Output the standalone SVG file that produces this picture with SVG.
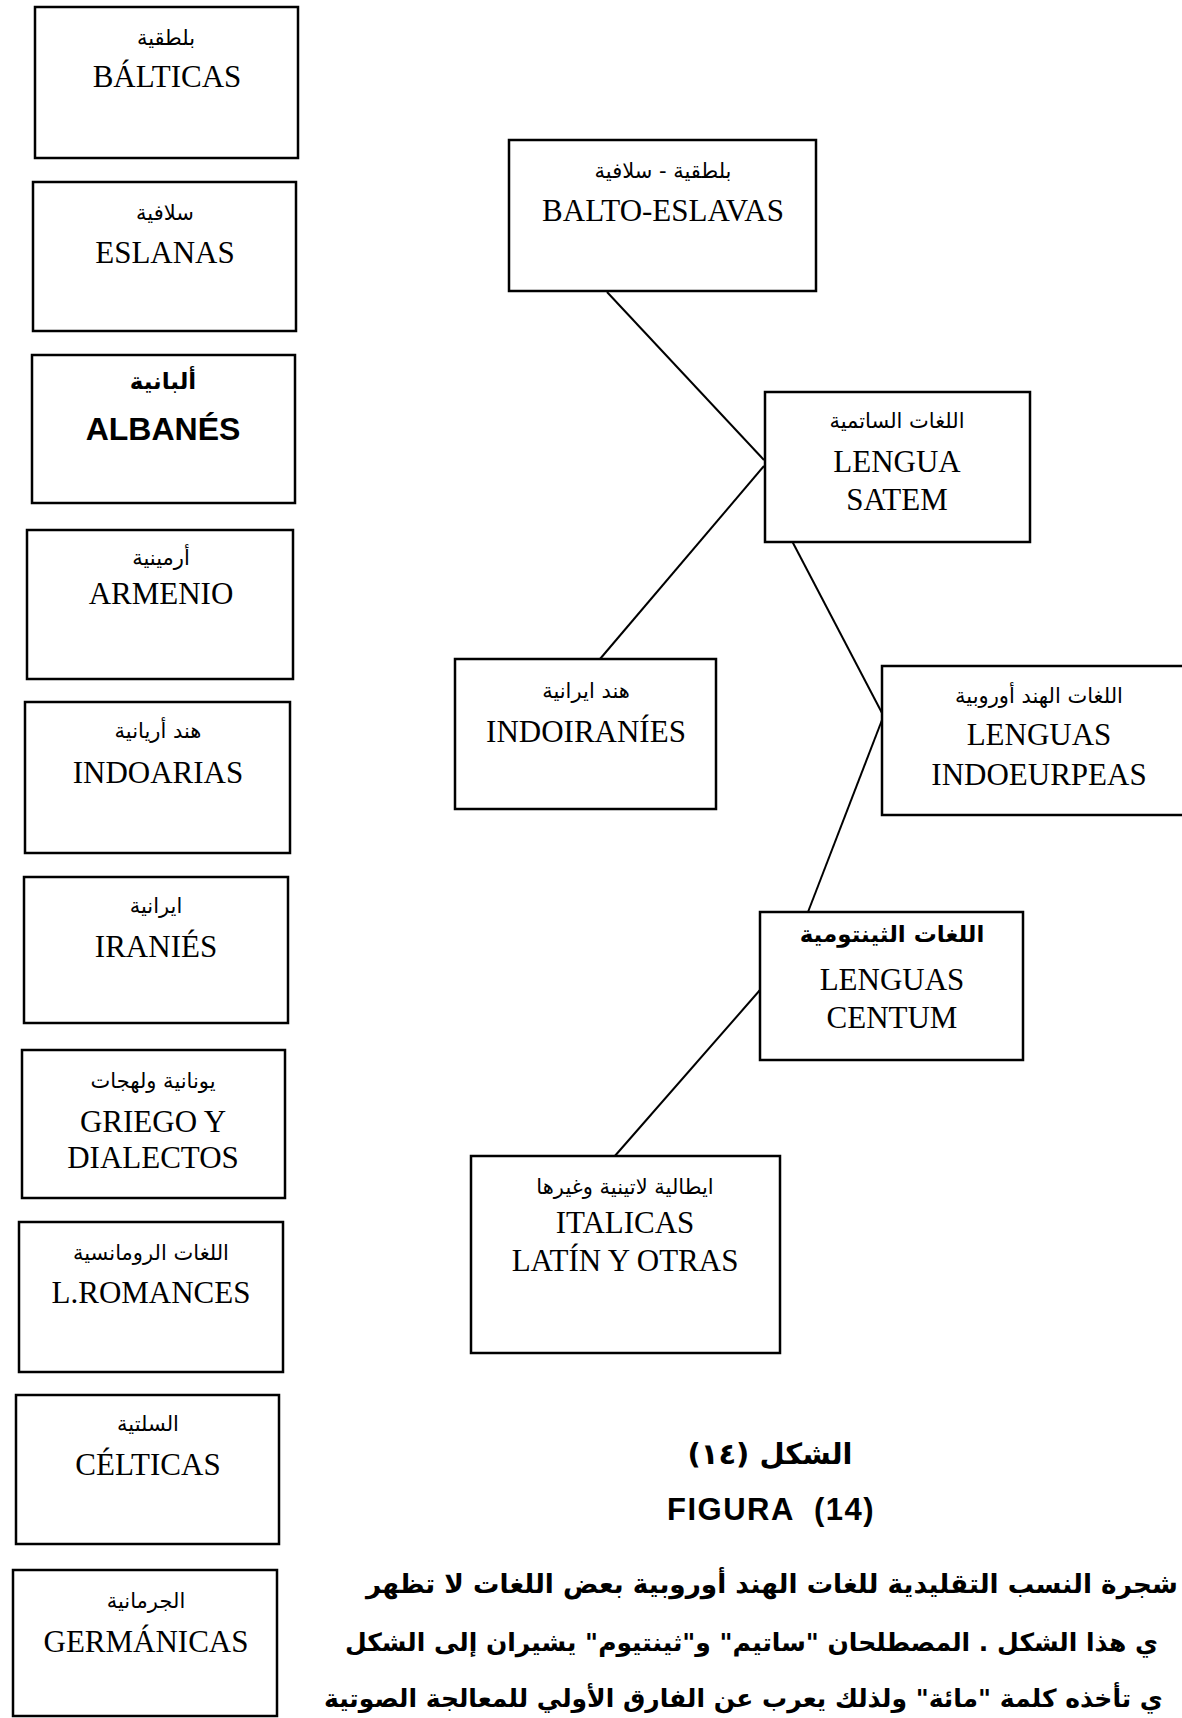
<svg xmlns="http://www.w3.org/2000/svg" width="1182" height="1718" viewBox="0 0 1182 1718">
<style>
.bg{fill:#fff}
.box{fill:#fff;stroke:#000;stroke-width:2.5}
.lat{font-family:"Liberation Serif","Times New Roman",serif;font-size:31px;text-anchor:middle;fill:#000}
.latb{font-family:"Liberation Sans",Arial,sans-serif;font-size:32px;font-weight:bold;text-anchor:middle;fill:#000}
.ar{font-family:"DejaVu Sans",sans-serif;font-size:21px;text-anchor:middle;direction:rtl;fill:#000}
.arb{font-family:"DejaVu Sans",sans-serif;font-size:23px;font-weight:bold;text-anchor:middle;direction:rtl;fill:#000}
.conn{stroke:#000;stroke-width:2;fill:none}
.para{font-family:"DejaVu Sans",sans-serif;font-size:25px;font-weight:bold;text-anchor:end;direction:rtl;fill:#000}
.cap{font-family:"DejaVu Sans",sans-serif;font-size:29px;font-weight:bold;text-anchor:middle;direction:rtl;fill:#000}
.fig{font-family:"Liberation Sans",Arial,sans-serif;font-size:31px;font-weight:bold;text-anchor:middle;letter-spacing:1.5px;fill:#000}
</style>
<rect class="bg" x="0" y="0" width="1182" height="1718"/>

<g id="connectors">
<line class="conn" x1="607" y1="292" x2="764" y2="460"/>
<line class="conn" x1="764" y1="466" x2="600" y2="659"/>
<line class="conn" x1="792" y1="541" x2="882" y2="713"/>
<line class="conn" x1="882" y1="720" x2="808" y2="912"/>
<line class="conn" x1="760" y1="990" x2="614" y2="1157"/>
</g>

<g id="n-balticas">
<rect class="box" x="35" y="7" width="263" height="151"/>
<text class="ar" x="166" y="45">بلطقية</text>
<text class="lat" x="167" y="87">BÁLTICAS</text>
</g>
<g id="n-eslanas">
<rect class="box" x="33" y="182" width="263" height="149"/>
<text class="ar" x="165" y="220">سلافية</text>
<text class="lat" x="165" y="263">ESLANAS</text>
</g>
<g id="n-albanes">
<rect class="box" x="32" y="355" width="263" height="148"/>
<text class="arb" x="163" y="389">ألبانية</text>
<text class="latb" x="163" y="440">ALBANÉS</text>
</g>
<g id="n-armenio">
<rect class="box" x="27" y="530" width="266" height="149"/>
<text class="ar" x="161" y="565">أرمينية</text>
<text class="lat" x="161" y="604">ARMENIO</text>
</g>
<g id="n-indoarias">
<rect class="box" x="25" y="702" width="265" height="151"/>
<text class="ar" x="158" y="738">هند أريانية</text>
<text class="lat" x="158" y="783">INDOARIAS</text>
</g>
<g id="n-iranies">
<rect class="box" x="24" y="877" width="264" height="146"/>
<text class="ar" x="156" y="913">ايرانية</text>
<text class="lat" x="156" y="957">IRANIÉS</text>
</g>
<g id="n-griego">
<rect class="box" x="22" y="1050" width="263" height="148"/>
<text class="ar" x="153" y="1088">يونانية ولهجات</text>
<text class="lat" x="153" y="1132">GRIEGO Y</text>
<text class="lat" x="153" y="1168">DIALECTOS</text>
</g>
<g id="n-romances">
<rect class="box" x="19" y="1222" width="264" height="150"/>
<text class="ar" x="151" y="1260">اللغات الرومانسية</text>
<text class="lat" x="151" y="1303">L.ROMANCES</text>
</g>
<g id="n-celticas">
<rect class="box" x="16" y="1395" width="263" height="149"/>
<text class="ar" x="148" y="1431">السلتية</text>
<text class="lat" x="148" y="1475">CÉLTICAS</text>
</g>
<g id="n-germanicas">
<rect class="box" x="13" y="1570" width="264" height="146"/>
<text class="ar" x="146" y="1608">الجرمانية</text>
<text class="lat" x="146" y="1652">GERMÁNICAS</text>
</g>

<g id="n-balto-eslavas">
<rect class="box" x="509" y="140" width="307" height="151"/>
<text class="ar" x="663" y="178">بلطقية - سلافية</text>
<text class="lat" x="663" y="221">BALTO-ESLAVAS</text>
</g>
<g id="n-satem">
<rect class="box" x="765" y="392" width="265" height="150"/>
<text class="ar" x="897" y="428">اللغات الساتمية</text>
<text class="lat" x="897" y="472">LENGUA</text>
<text class="lat" x="897" y="510">SATEM</text>
</g>
<g id="n-indoiranies">
<rect class="box" x="455" y="659" width="261" height="150"/>
<text class="ar" x="586" y="698">هند ايرانية</text>
<text class="lat" x="586" y="742">INDOIRANÍES</text>
</g>
<g id="n-indoeurpeas">
<rect class="box" x="882" y="666" width="310" height="149"/>
<text class="ar" x="1039" y="703">اللغات الهند أوروبية</text>
<text class="lat" x="1039" y="745">LENGUAS</text>
<text class="lat" x="1039" y="785">INDOEURPEAS</text>
</g>
<g id="n-centum">
<rect class="box" x="760" y="912" width="263" height="148"/>
<text class="arb" x="892" y="942">اللغات الثينتومية</text>
<text class="lat" x="892" y="990">LENGUAS</text>
<text class="lat" x="892" y="1028">CENTUM</text>
</g>
<g id="n-italicas">
<rect class="box" x="471" y="1156" width="309" height="197"/>
<text class="ar" x="625" y="1194">ايطالية لاتينية وغيرها</text>
<text class="lat" x="625" y="1233">ITALICAS</text>
<text class="lat" x="625" y="1271">LATÍN Y OTRAS</text>
</g>

<g id="caption">
<text class="cap" x="770" y="1464">الشكل (١٤)</text>
<text class="fig" x="771" y="1520" xml:space="preserve">FIGURA  (14)</text>
<text class="para" x="366" y="1593" style="font-size:26.3px">شجرة النسب التقليدية للغات الهند أوروبية بعض اللغات لا تظهر</text>
<text class="para" x="345" y="1651">ي هذا الشكل . المصطلحان "ساتيم" و"ثينتيوم" يشيران إلى الشكل</text>
<text class="para" x="324" y="1707">ي تأخذه كلمة "مائة" ولذلك يعرب عن الفارق الأولي للمعالجة الصوتية</text>
</g>
</svg>
